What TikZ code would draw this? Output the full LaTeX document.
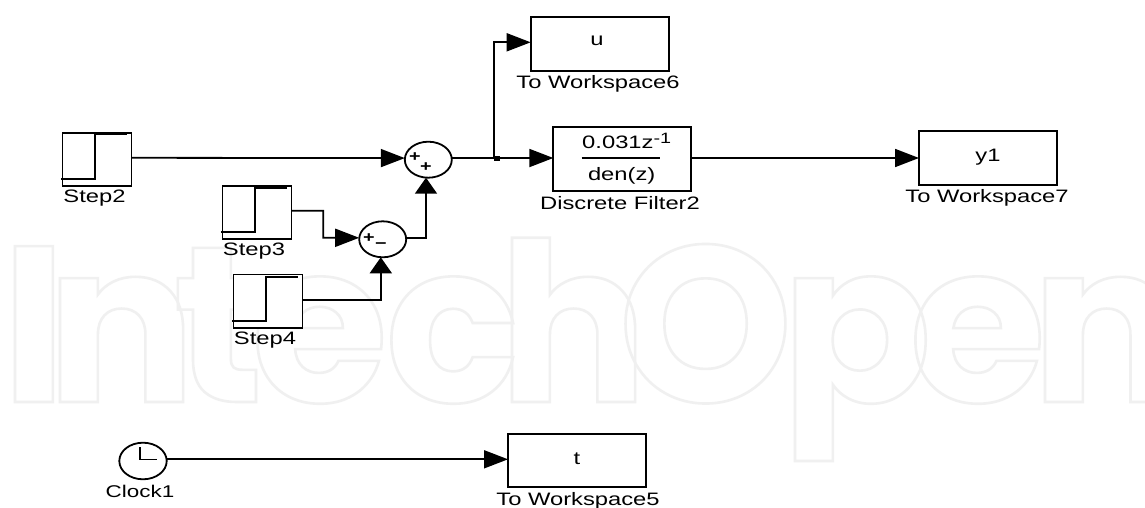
\documentclass[tikz,border=0pt]{standalone}
\usepackage{fontspec}
\setmainfont[FakeStretch=1.32]{Liberation Sans}
\newfontfamily\wmfont{Poppins}
\usetikzlibrary{shapes.geometric,arrows.meta}
\definecolor{wmgray}{HTML}{F0F0F0}
\newcommand{\outlined}[1]{\special{pdf:code 1 Tr 2.6 w}#1\special{pdf:code 0 Tr}}
\tikzset{
  wire/.style={line width=1.8pt,draw=black},
  arrowh/.style={wire,-{Triangle[length=24pt,width=18pt]}},
  arrowv/.style={wire,-{Triangle[length=16pt,width=22pt]}},
  blockbox/.style={draw=black,fill=white,line width=1.8pt,rectangle,inner sep=0pt,outer sep=0pt},
  stepbox/.style={blockbox,minimum width=69pt,minimum height=53.5pt},
  wsbox/.style={blockbox,minimum width=138pt,minimum height=53.5pt},
  sumnode/.style={draw=black,fill=white,line width=1.8pt,ellipse,inner sep=0pt,outer sep=0pt,minimum width=47pt,minimum height=36pt},
  lab/.style={font=\fontsize{18}{20}\selectfont,inner sep=0pt},
  sign/.style={font=\fontsize{15}{15}\selectfont\bfseries,inner sep=0pt},
  wm/.style={inner sep=0pt,anchor=base west,text=wmgray,font=\wmfont\bfseries\fontsize{222}{222}\selectfont},
}
\begin{document}
\begin{tikzpicture}[x=1pt,y=-1pt]
\useasboundingbox (0,0) rectangle (1145,508);
\fill[white] (0,0) rectangle (1145,508);
% watermark
\node[wm] (w1) at (1,402) {\outlined{I}};
\node[wm] (w2) at (46,402) {\outlined{n}};
\node[wm] (w3) at (173,402) {\outlined{t}};
\node[wm] (w4) at (251,402) {\outlined{e}};
\node[wm] (w5) at (385,402) {\outlined{c}};
\node[wm] (w6) at (498,402) {\outlined{h}};
\node[wm] (w7) at (618,402) {\outlined{O}};
\node[wm] (w8) at (781,402) {\outlined{p}};
\node[wm] (w9) at (909,402) {\outlined{e}};
\node[wm] (w10) at (1031,402) {\outlined{n}};
% blocks
\node[stepbox] (step2) at (97,159.4) {};
\node[stepbox] (step3) at (257,212.6) {};
\node[stepbox] (step4) at (268,301.3) {};
\draw[wire] (61,179) -- (95,179) -- (95,134.5) -- (127,134.5);
\draw[wire] (221,232.3) -- (254.7,232.3) -- (254.7,187.7) -- (287,187.7);
\draw[wire] (232,321) -- (266,321) -- (266,276.7) -- (298,276.7);
\node[lab] (lstep2) at (94.5,198) {Step2};
\node[lab] (lstep3) at (254,251.5) {Step3};
\node[lab] (lstep4) at (265,340.5) {Step4};
\node[sumnode] (sum1) at (428.3,159.7) {};
\node[sumnode] (sum2) at (382.7,239.3) {};
\node[sign] (s1a) at (415,157) {+};
\node[sign] (s1b) at (426,167) {+};
\node[sign] (s2a) at (369,238) {+};
\node[sign] (s2b) at (381,246) {−};
\node[wsbox] (u) at (599.7,44) {};
\node[lab] (ut) at (597,41) {u};
\node[lab] (lu) at (598,84) {To Workspace6};
\node[blockbox,minimum width=137.7pt,minimum height=63.7pt] (filt) at (622.2,159.2) {};
\node[lab] (fnum) at (626.7,141) {0.031z\raisebox{5pt}{\fontsize{15}{15}\selectfont -1}};
\node[lab] (fden) at (621.7,175.7) {den(z)};
\draw[wire] (581.7,157.7) -- (660,157.7);
\node[lab] (lf) at (620,203.5) {Discrete Filter2};
\node[wsbox] (y1) at (988,158) {};
\node[lab] (yt) at (988,157.5) {y1};
\node[lab] (ly) at (987,198) {To Workspace7};
\node[draw=black,fill=white,line width=1.8pt,ellipse,inner sep=0pt,outer sep=0pt,minimum width=47.4pt,minimum height=36.6pt] (clock) at (143,461) {};
\draw[line width=1.4pt] (140,447.3) -- (140,459.3) -- (156.7,459.3);
\node[lab,font=\fontsize{17}{20}\selectfont] (lc) at (140,491) {Clock1};
\node[wsbox] (t) at (577,460.5) {};
\node[lab] (tt) at (577,459) {t};
\node[lab] (lt) at (578,501) {To Workspace5};
% connectors
\draw[arrowh] ([yshift=1.6pt]step2.east) -- ([yshift=1.6pt]sum1.west);
\draw[arrowh] ([yshift=1.6pt]sum1.east) -- ([yshift=1.2pt]filt.west);
\coordinate (junc) at (494.3,158);
\fill (493.5,155.5) rectangle (500,161);
\draw[arrowh] (junc) -- (494.3,42.3) -- (u.west|-0,42.3);
\draw[arrowh] ([yshift=1.2pt]filt.east) -- (y1.west);
\draw[arrowv] ([yshift=1.5pt]sum2.east) -- (426,237.8) -- (sum1.south-|426,0);
\draw[arrowh] ([yshift=1.9pt]step3.east) -- (323.3,210.7) -- (323.3,237.8) -- ([yshift=1.5pt]sum2.west);
\draw[arrowv] ([yshift=1.3pt]step4.east) -- (380.8,300) -- (sum2.south-|380.8,0);
\draw[arrowh] ([yshift=1.7pt]clock.east) -- ([yshift=1.2pt]t.west);
\end{tikzpicture}
\end{document}
